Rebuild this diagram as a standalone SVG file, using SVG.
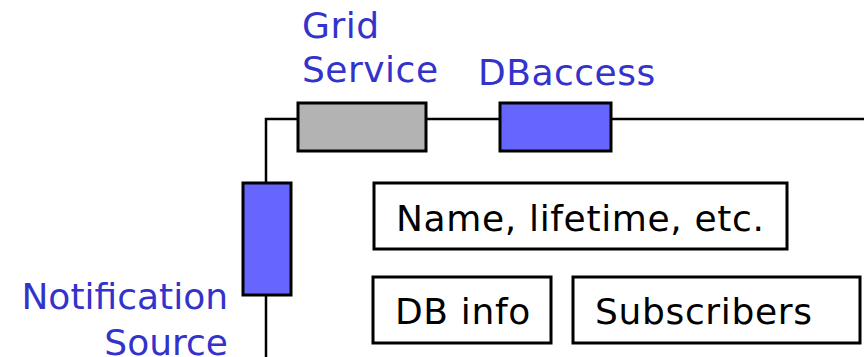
<svg xmlns="http://www.w3.org/2000/svg" width="864" height="357" viewBox="0 0 864 357">
<style>
.lbl{font-family:"DejaVu Sans",Verdana,sans-serif;font-size:36px;fill:#3333CC;letter-spacing:0.5px}
.lbl2{font-family:"DejaVu Sans",Verdana,sans-serif;font-size:36px;fill:#3333CC}
.txt{font-family:"DejaVu Sans",Verdana,sans-serif;font-size:36px;fill:#000;letter-spacing:0.65px}
.box{fill:#fff;stroke:#000;stroke-width:3}
.blue{fill:#6666FF;stroke:#000;stroke-width:3}
.gray{fill:#B3B3B3;stroke:#000;stroke-width:3}
.wire{fill:none;stroke:#000;stroke-width:2.5}
</style>
<rect width="864" height="357" fill="#fff"/>
<g id="connectors">
<path class="wire" d="M266,357 V119 H864"/>
</g>
<g id="grid-service">
<rect class="gray" x="298" y="103" width="128" height="48"/>
<text class="lbl" x="302" y="38">Grid</text>
<text class="lbl" x="302" y="82">Service</text>
</g>
<g id="dbaccess">
<rect class="blue" x="500" y="103" width="111" height="48"/>
<text class="lbl" x="478" y="85">DBaccess</text>
</g>
<g id="notification-source">
<rect class="blue" x="243" y="183" width="48" height="112"/>
<text class="lbl2" x="228" y="309" text-anchor="end">Notification</text>
<text class="lbl2" x="228" y="355" text-anchor="end">Source</text>
</g>
<g id="name-lifetime">
<rect class="box" x="374" y="183" width="413" height="66"/>
<text class="txt" x="396" y="231">Name, lifetime, etc.</text>
</g>
<g id="db-info">
<rect class="box" x="373" y="277" width="178" height="66"/>
<text class="txt" x="395" y="324">DB info</text>
</g>
<g id="subscribers">
<rect class="box" x="573" y="277" width="287" height="66"/>
<text class="txt" x="595" y="324">Subscribers</text>
</g>
</svg>
